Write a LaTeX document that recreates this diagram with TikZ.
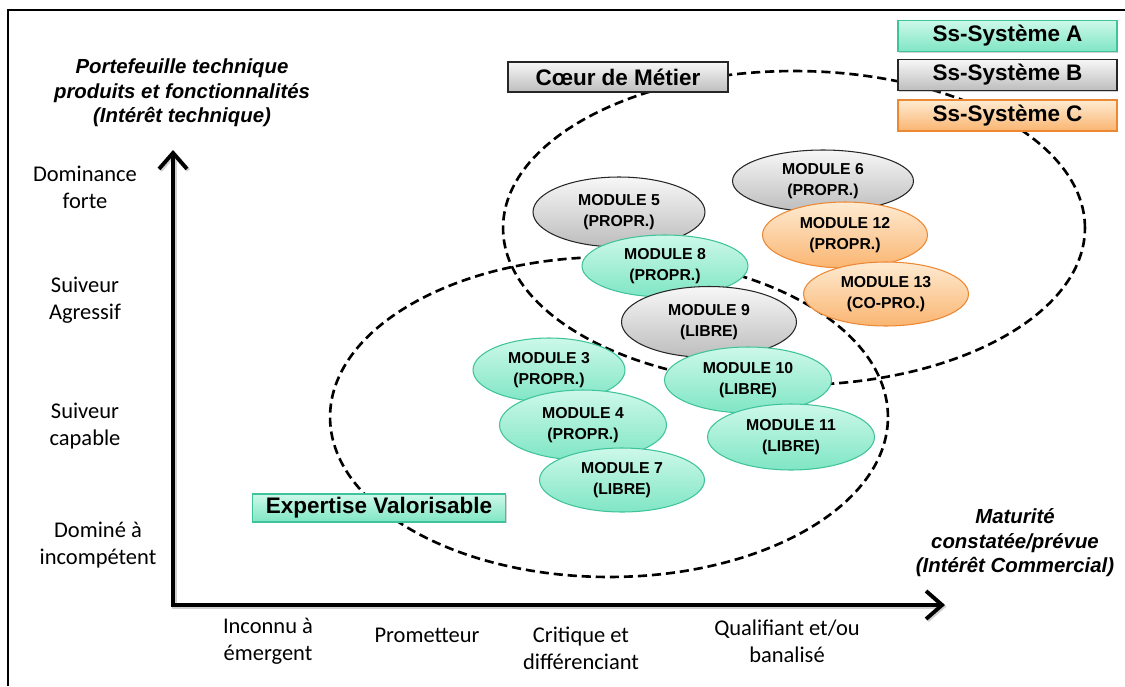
\documentclass[tikz,border=0pt]{standalone}
\usepackage{fontspec}
\setmainfont{Liberation Sans}
\newfontfamily\calfont{Carlito}
\usetikzlibrary{shapes.geometric,arrows.meta,shadows}

\definecolor{grnA}{HTML}{CDF8EA}
\definecolor{grnB}{HTML}{7FE6C4}
\definecolor{grnL}{HTML}{3FC39A}
\definecolor{gryA}{HTML}{F7F7F7}
\definecolor{gryB}{HTML}{BDBDBD}
\definecolor{orgA}{HTML}{FEEBD2}
\definecolor{orgB}{HTML}{FAB571}
\definecolor{orgL}{HTML}{EC8733}

\tikzset{
  legbox/.style={draw, line width=0.7pt, minimum width=4.38cm, minimum height=0.62cm,
    inner sep=0pt, font=\fontsize{12.8}{15}\selectfont\bfseries,
    drop shadow={shadow xshift=0.6pt, shadow yshift=-0.8pt, opacity=0.35}},
  grnfill/.style={top color=grnA, bottom color=grnB, draw=grnL},
  gryfill/.style={top color=gryA, bottom color=gryB, draw=black!85},
  orgfill/.style={top color=orgA, bottom color=orgB, draw=orgL},
  mod/.style={ellipse, line width=0.6pt, inner sep=0pt, align=center,
    font=\fontsize{9}{11.8}\selectfont\bfseries},
  zone/.style={ellipse, draw, line width=1.5pt, dash pattern=on 5.2pt off 2.8pt, inner sep=0pt},
  axlabel/.style={align=center, font=\calfont\fontsize{12.8}{15.4}\selectfont},
  axtitle/.style={align=center, font=\fontsize{11.6}{14}\selectfont\bfseries\itshape},
  barb/.tip={Straight Barb[length=3.2mm, width=5.6mm, line width=2.2pt]},
  axis/.style={line width=2.6pt, barb-barb},
  axshadow/.style={line width=2.6pt, black!18, barb-barb}
}

\begin{document}
\begin{tikzpicture}[x=0.02cm, y=-0.02cm]
\useasboundingbox (0,0) rectangle (1125,686);

% frame
\draw[line width=1.4pt] (8,686) -- (8,10) -- (1125,10);

% axes with a soft shadow
\coordinate (origin) at (173,605);
\coordinate (ytip) at (173,150);
\coordinate (xtip) at (945,605);
\coordinate (origins) at (174.5,606.5);
\coordinate (ytips) at (174.5,151.5);
\coordinate (xtips) at (946.5,606.5);
\draw[axshadow, line join=miter] (ytips) -- (origins) -- (xtips);
\draw[axis, line join=miter] (ytip) -- (origin) -- (xtip);

% axis titles
\node[axtitle] (ytitle) at (182,93) {Portefeuille technique\\produits et fonctionnalités\\(Intérêt technique)};
\node[axtitle] (xtitle) at (1015,543) {Maturité\\constatée/prévue\\(Intérêt Commercial)};

% vertical scale
\node[axlabel] (y1) at (85,187) {Dominance\\forte};
\node[axlabel] (y2) at (85,300) {Suiveur\\Agressif};
\node[axlabel] (y3) at (85,426) {Suiveur\\capable};
\node[axlabel] (y4) at (98,545) {Dominé à\\incompétent};

% horizontal scale
\node[axlabel] (x1) at (268,641) {Inconnu à\\émergent};
\node[axlabel] (x2) at (427,635) {Prometteur};
\node[axlabel] (x3) at (581,648) {Critique et\\différenciant};
\node[axlabel] (x4) at (787,641) {Qualifiant et/ou\\banalisé};

% zones
\node[zone, minimum width=11.64cm, minimum height=6.28cm] (coeur) at (794,228) {};
\node[zone, minimum width=11.16cm, minimum height=6.4cm] (expertise) at (609,417) {};

% modules
\node[mod, gryfill, minimum width=3.44cm, minimum height=1.40cm] (m5) at (619,212) {MODULE 5\\(PROPR.)};
\node[mod, grnfill, minimum width=3.32cm, minimum height=1.24cm] (m8) at (665,266) {MODULE 8\\(PROPR.)};
\node[mod, gryfill, minimum width=3.50cm, minimum height=1.42cm] (m9) at (709,322) {MODULE 9\\(LIBRE)};
\node[mod, gryfill, minimum width=3.62cm, minimum height=1.24cm] (m6) at (823,181) {MODULE 6\\(PROPR.)};
\node[mod, orgfill, minimum width=3.30cm, minimum height=1.32cm] (m12) at (845,235) {MODULE 12\\(PROPR.)};
\node[mod, orgfill, minimum width=3.30cm, minimum height=1.28cm] (m13) at (886,294) {MODULE 13\\(CO-PRO.)};
\node[mod, grnfill, minimum width=3.04cm, minimum height=1.28cm] (m3) at (549,370) {MODULE 3\\(PROPR.)};
\node[mod, grnfill, minimum width=3.34cm, minimum height=1.40cm] (m4) at (583,425) {MODULE 4\\(PROPR.)};
\node[mod, grnfill, minimum width=3.30cm, minimum height=1.28cm] (m7) at (622,480) {MODULE 7\\(LIBRE)};
\node[mod, grnfill, minimum width=3.34cm, minimum height=1.32cm] (m10) at (748,380) {MODULE 10\\(LIBRE)};
\node[mod, grnfill, minimum width=3.34cm, minimum height=1.32cm] (m11) at (791,437) {MODULE 11\\(LIBRE)};

% zone names
\node[legbox, gryfill, minimum width=4.40cm, minimum height=0.60cm] (lcoeur) at (618,77) {Cœur de Métier};
\node[legbox, grnfill, minimum width=5.06cm, minimum height=0.56cm] (lexp) at (379,508) {Expertise Valorisable};

% legend
\node[legbox, grnfill] (la) at (1007.5,36) {Ss-Système A};
\node[legbox, gryfill] (lb) at (1007.5,75) {Ss-Système B};
\node[legbox, orgfill] (lc) at (1007.5,115.5) {Ss-Système C};
\end{tikzpicture}
\end{document}
